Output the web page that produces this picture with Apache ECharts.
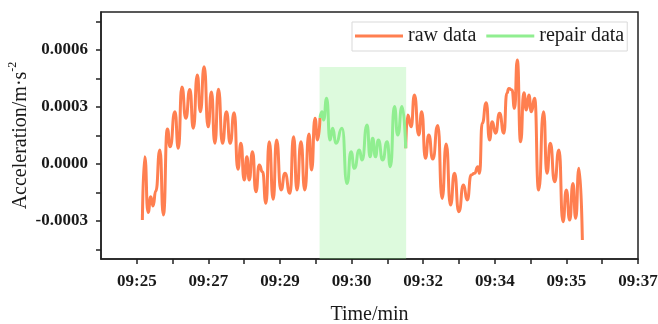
<!DOCTYPE html>
<html>
<head>
<meta charset="utf-8">
<script src="https://cdn.jsdelivr.net/npm/echarts@6/dist/echarts.min.js"></script>
<style>
  html, body { margin: 0; padding: 0; background: #fff; }
  #main { width: 658px; height: 324px; }
</style>
</head>
<body>
<div id="main"></div>
<script>
// time in minutes after 09:00, acceleration in m/s^2
const seriesNames = ['raw data', 'repair data'];

const rawTime1 = [25.832, 25.889, 25.967, 26.032, 26.086, 26.151, 26.248, 26.331, 26.426, 26.491,
  26.605, 26.686, 26.771, 26.864, 26.959, 27.042, 27.137, 27.209, 27.299, 27.394,
  27.472, 27.553, 27.639, 27.734, 27.829, 27.917, 28.012, 28.100, 28.172, 28.250,
  28.314, 28.369, 28.447, 28.528, 28.607, 28.685, 28.766, 28.844, 28.939, 29.018,
  29.123, 29.218, 29.337, 29.422, 29.503, 29.598, 29.688, 29.788, 29.850, 29.931,
  29.993, 30.050];
const rawAcc1 = [-0.000295, 0.000038, -0.000255, -0.000172, -0.000221, -0.000142, 0.000074, -0.000268, 0.000184, 0.000091,
  0.000275, 0.000083, 0.000405, 0.000241, 0.000392, 0.000188, 0.000468, 0.000275, 0.000512, 0.000196,
  0.000379, 0.000109, 0.000393, 0.000109, 0.000275, 0.000109, 0.00027, -0.000028, 0.000109, -0.000084,
  0.000038, -0.000084, 0.000065, -0.000146, -0.000005, -0.000041, -0.000207, 0.000117, -0.000186, 0.000126,
  -0.000137, -0.000049, -0.000154, 0.000144, -0.000137, 0.000117, -0.000137, 0.000158, -0.000032, 0.000241,
  0.000126, 0.000242];

const repairTime = [30.050, 30.097, 30.135, 30.207, 30.288, 30.349, 30.430, 30.573, 30.692, 30.787,
  30.865, 30.984, 31.048, 31.167, 31.239, 31.300, 31.365, 31.436, 31.538, 31.643,
  31.721, 31.817, 31.895, 31.999, 32.085];
const repairAcc = [0.000242, 0.000275, 0.000232, 0.000346, 0.000126, 0.000188, 0.000109, 0.000188, -0.000102, 0.000065,
  -0.000023, 0.000074, 0.000021, 0.000205, 0.000038, 0.000135, 0.000038, 0.000126, 0.000021, 0.000117,
  -0.000014, 0.000302, 0.000153, 0.000302, 0.000083];

const rawTime2 = [32.085, 32.133, 32.213, 32.292, 32.394, 32.465, 32.553, 32.632, 32.727, 32.846,
  32.950, 33.046, 33.148, 33.243, 33.345, 33.457, 33.545, 33.640, 33.718, 33.797,
  33.837, 33.901, 33.997, 34.075, 34.139, 34.218, 34.313, 34.415, 34.486, 34.534,
  34.606, 34.669, 34.734, 34.812, 34.891, 34.948, 35.009, 35.067, 35.145, 35.240,
  35.359, 35.437, 35.518, 35.620, 35.723, 35.818, 35.899, 35.977, 36.056, 36.120,
  36.198, 36.279];
const rawAcc2 = [0.000083, 0.000258, 0.000196, 0.000363, 0.000153, 0.000275, 0.00003, 0.000153, 0.000026, 0.000203,
  -0.000181, 0.000105, -0.000216, -0.000049, -0.000251, -0.000111, -0.000189, -0.000058, -0.000049, -0.000014,
  -0.000049, 0.000214, 0.000323, 0.000126, 0.000223, 0.000162, 0.000267, 0.000162, 0.000372, 0.000398,
  0.000389, 0.000293, 0.000547, 0.000117, 0.000375, 0.000284, 0.000363, 0.000275, 0.000346, -0.000137,
  0.000275, -0.000049, 0.000109, -0.000093, 0.000074, -0.000304, -0.000137, -0.000295, -0.000102, -0.000286,
  -0.000023, -0.0004];

// repaired window (shaded)
const repairWindow = [30.04, 32.095];
const repairTop = 0.00051;

// axes
const xTickTimes = [25.7, 27.4, 29.1, 30.8, 32.5, 34.2, 35.9, 37.6];
const xTickLabels = ['09:25', '09:27', '09:29', '09:30', '09:32', '09:34', '09:35', '09:37'];
const xMinorTimes = [26.55, 28.25, 29.95, 31.65, 33.35, 35.05, 36.75];
const yTickValues = [-0.0003, 0, 0.0003, 0.0006];
const yMinorValues = [-0.00045, -0.00015, 0.00015, 0.00045, 0.00075];

const SERIF = '"Liberation Serif", "Times New Roman", serif';
const LEGEND_LINE = 'path://M0,0 L48,0 L48,3 L0,3 Z';
const zip = (a, b) => a.map((v, i) => [v, b[i]]);

const rawData = zip(rawTime1, rawAcc1).concat([[31, null]], zip(rawTime2, rawAcc2));
const repairData = zip(repairTime, repairAcc);

const chart = echarts.init(document.getElementById('main'));
chart.setOption({
  animation: false,
  backgroundColor: '#fff',
  grid: {
    left: 101, right: 20, top: 12, bottom: 65,
    outerBoundsMode: 'none',
    show: true, borderColor: '#222', borderWidth: 1.5, backgroundColor: 'transparent'
  },
  legend: {
    data: [
      { name: seriesNames[0], icon: LEGEND_LINE },
      { name: seriesNames[1], icon: LEGEND_LINE }
    ],
    left: 352, top: 22,
    padding: [4, 3, 5, 3],
    itemGap: 10, itemWidth: 48, itemHeight: 14,
    borderColor: '#d9d9d9', borderWidth: 1,
    textStyle: { fontFamily: SERIF, fontSize: 20, color: '#1a1a1a' }
  },
  xAxis: {
    type: 'value',
    min: 24.85, max: 37.6,
    name: 'Time/min',
    nameLocation: 'middle',
    nameGap: 46,
    nameMoveOverlap: false,
    nameTextStyle: { fontFamily: SERIF, fontSize: 20, color: '#1a1a1a' },
    axisLine: { onZero: false, lineStyle: { color: '#222', width: 1.5 } },
    axisTick: { inside: false, length: 5, lineStyle: { color: '#222', width: 1.5 },
      customValues: xTickTimes.concat(xMinorTimes) },
    splitLine: { show: false },
    axisLabel: {
      customValues: xTickTimes,
      margin: 14,
      fontFamily: SERIF, fontSize: 17, fontWeight: 'bold', color: '#1a1a1a',
      formatter: function (v) {
        for (let i = 0; i < xTickTimes.length; i++) {
          if (Math.abs(v - xTickTimes[i]) < 1e-6) return xTickLabels[i];
        }
        return '';
      }
    }
  },
  yAxis: {
    type: 'value',
    min: -0.0005, max: 0.0008,
    name: '{a|Acceleration/m·s}{b|-2}',
    nameLocation: 'middle',
    nameGap: 70,
    nameMoveOverlap: false,
    nameTextStyle: {
      color: '#1a1a1a',
      rich: {
        a: { fontFamily: SERIF, fontSize: 20, color: '#1a1a1a', lineHeight: 24, verticalAlign: 'bottom' },
        b: { fontFamily: SERIF, fontSize: 12, color: '#1a1a1a', lineHeight: 24, verticalAlign: 'top' }
      }
    },
    axisLine: { show: true, onZero: false, lineStyle: { color: '#222', width: 1.5 } },
    axisTick: { length: 5, lineStyle: { color: '#222', width: 1.5 },
      customValues: yTickValues.concat(yMinorValues) },
    splitLine: { show: false },
    axisLabel: {
      customValues: yTickValues,
      margin: 13,
      fontFamily: SERIF, fontSize: 17, fontWeight: 'bold', color: '#1a1a1a',
      formatter: v => v.toFixed(4)
    }
  },
  series: [
    {
      name: seriesNames[0],
      type: 'line',
      data: rawData,
      symbol: 'none',
      smooth: 0.6,
      smoothMonotone: 'x',
      connectNulls: false,
      color: '#FF7F50',
      lineStyle: { color: '#FF7F50', width: 3 },
      markArea: {
        silent: true,
        itemStyle: { color: 'rgba(144,238,144,0.3)' },
        data: [[{ xAxis: repairWindow[0], yAxis: repairTop }, { xAxis: repairWindow[1], yAxis: -0.0005 }]]
      },
      z: 3
    },
    {
      name: seriesNames[1],
      type: 'line',
      data: repairData,
      symbol: 'none',
      smooth: 0.6,
      smoothMonotone: 'x',
      color: '#90EE90',
      lineStyle: { color: '#90EE90', width: 3 },
      z: 3
    }
  ]
});
</script>
</body>
</html>
